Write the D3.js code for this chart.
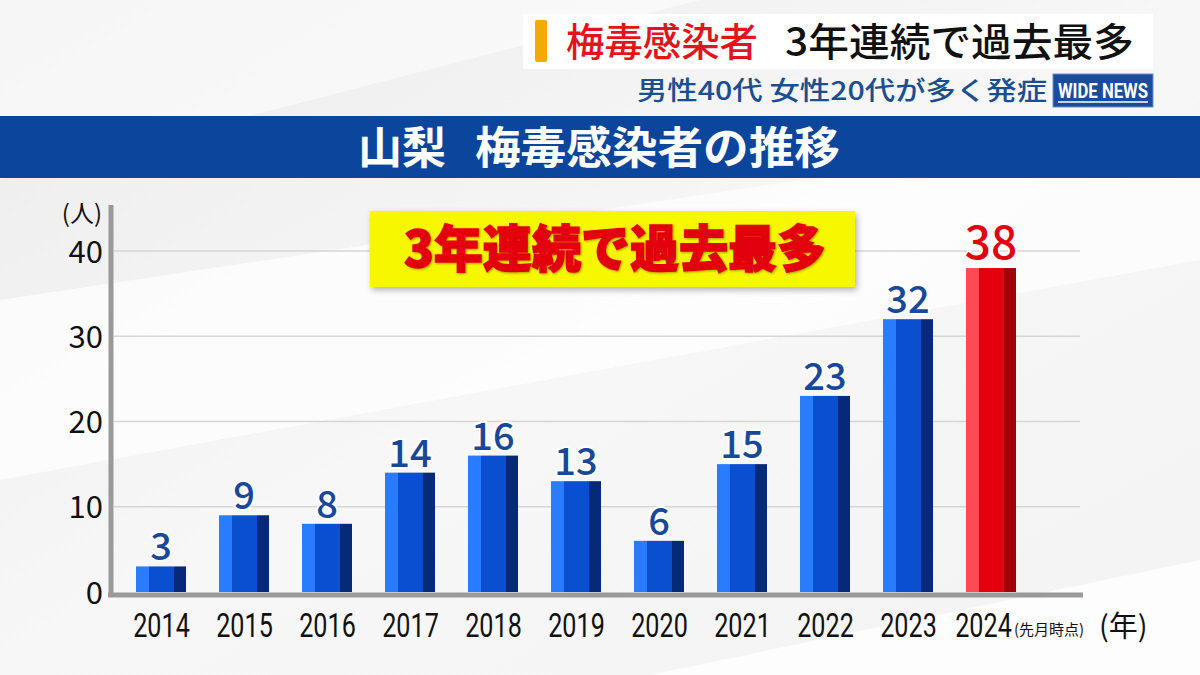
<!DOCTYPE html>
<html><head><meta charset="utf-8">
<script src="https://cdn.jsdelivr.net/npm/d3@7"></script>
<style>
html,body{margin:0;padding:0;background:#fff;}
svg{display:block;}
</style>
</head><body>
<svg id="chart" width="1200" height="675"></svg>
<script>
const years = ["2014","2015","2016","2017","2018","2019","2020","2021","2022","2023","2024"];
const values = [3,9,8,14,16,13,6,15,23,32,38];
const highlight = [false,false,false,false,false,false,false,false,false,false,true];
const yTicks = [0,10,20,30,40];
const headline = "梅毒感染者";
const headline2 = "3年連続で過去最多";
const subline = "男性40代 女性20代が多く発症";
const titleA = "山梨";
const titleB = "梅毒感染者の推移";
const callout = "3年連続で過去最多";
const lastNote = "(先月時点)";
const yUnit = "(人)";
const xUnit = "(年)";

const JP = "'Noto Sans CJK JP','Noto Sans',sans-serif";
const svg = d3.select("#chart");
const defs = svg.append("defs");

// background
const bg = defs.append("linearGradient").attr("id","bg").attr("x1","0").attr("y1","0").attr("x2","1").attr("y2","1");
bg.append("stop").attr("offset","0").attr("stop-color","#ececec");
bg.append("stop").attr("offset","0.5").attr("stop-color","#f7f7f7");
bg.append("stop").attr("offset","1").attr("stop-color","#f3f3f3");
svg.append("rect").attr("width",1200).attr("height",675).attr("fill","url(#bg)");
svg.append("path").attr("d","M0,300 L1200,120 L1200,260 L0,480 Z").attr("fill","#ffffff").attr("opacity",0.7);
svg.append("path").attr("d","M0,0 L700,0 L0,180 Z").attr("fill","#ffffff").attr("opacity",0.5);
svg.append("path").attr("d","M650,675 L1200,560 L1200,675 Z").attr("fill","#ffffff").attr("opacity",0.8);

const sh = defs.append("filter").attr("id","shadow").attr("x","-10%").attr("y","-20%").attr("width","130%").attr("height","160%");
sh.append("feDropShadow").attr("dx",2).attr("dy",3).attr("stdDeviation",3).attr("flood-color","#000").attr("flood-opacity",0.3);
const tsh = defs.append("filter").attr("id","tshadow").attr("x","-5%").attr("y","-20%").attr("width","110%").attr("height","150%");
tsh.append("feDropShadow").attr("dx",1).attr("dy",1).attr("stdDeviation",1).attr("flood-color","#000").attr("flood-opacity",0.35);

// header
svg.append("rect").attr("x",523).attr("y",14).attr("width",630).attr("height",55).attr("fill","#ffffff").attr("opacity",0.95);
svg.append("rect").attr("x",535).attr("y",20).attr("width",12).attr("height",42).attr("rx",2).attr("fill","#f2ab00");
svg.append("text").attr("x",566).attr("y",56).attr("font-family",JP).attr("font-size",39).attr("font-weight",500)
  .attr("fill","#e2141c").attr("textLength",192).attr("lengthAdjust","spacingAndGlyphs").text(headline);
svg.append("text").attr("x",785).attr("y",56).attr("font-family",JP).attr("font-size",39).attr("font-weight",500)
  .attr("fill","#111").attr("textLength",349).attr("lengthAdjust","spacingAndGlyphs").text(headline2);
svg.append("text").attr("x",637).attr("y",100).attr("font-family",JP).attr("font-size",26).attr("font-weight",500)
  .attr("fill","#1c4e92").attr("textLength",410).attr("lengthAdjust","spacingAndGlyphs").text(subline);
svg.append("rect").attr("x",1053).attr("y",74).attr("width",100).attr("height",33).attr("fill","#1a4c9c").attr("stroke","#6f8fc6").attr("stroke-width",1);
svg.append("text").attr("x",1058).attr("y",98).attr("font-family","'Roboto','Liberation Sans',sans-serif")
  .attr("font-size",21).attr("font-weight",700).attr("fill","#fff").attr("textLength",90).attr("lengthAdjust","spacingAndGlyphs").text("WIDE NEWS");
svg.append("line").attr("x1",1058).attr("x2",1148).attr("y1",102).attr("y2",102).attr("stroke","#fff").attr("stroke-width",1.5);

// title bar
svg.append("rect").attr("x",0).attr("y",116).attr("width",1200).attr("height",62).attr("fill","#0b469c");
svg.append("text").attr("x",358).attr("y",164).attr("font-family",JP).attr("font-size",44).attr("font-weight",700)
  .attr("fill","#fff").attr("textLength",88).attr("lengthAdjust","spacingAndGlyphs").text(titleA);
svg.append("text").attr("x",475).attr("y",164).attr("font-family",JP).attr("font-size",44).attr("font-weight",700)
  .attr("fill","#fff").attr("textLength",365).attr("lengthAdjust","spacingAndGlyphs").text(titleB);

// scales
const x = d3.scalePoint().domain(years).range([161, 991]);
const y = d3.scaleLinear().domain([0,40]).range([592, 251]);
const barW = 50;

// grid
svg.append("g").selectAll("line").data(yTicks.filter(d=>d>0)).join("line")
  .attr("x1",114).attr("x2",1080).attr("y1",d=>y(d)).attr("y2",d=>y(d))
  .attr("stroke","#d6d6d6").attr("stroke-width",1.5);

// y axis labels
const yAxis = d3.axisLeft(y).tickValues(yTicks).tickSize(0).tickPadding(0);
const gy = svg.append("g").attr("transform","translate(103,0)").call(yAxis);
gy.select(".domain").remove();
gy.selectAll("text").attr("font-family",JP).attr("font-size",31).attr("font-weight",400).attr("fill","#111").attr("dy","0.36em");
svg.append("text").attr("x",102).attr("y",222).attr("text-anchor","end").attr("font-family",JP).attr("font-size",24).attr("fill","#111").text(yUnit);

// bars
const blueCols = ["#2a7cff","#0a4fd0","#062a78"];
const redCols = ["#ff4a56","#e3000f","#a3000b"];
const bars = svg.append("g").selectAll("g").data(years).join("g")
  .attr("transform",d=>`translate(${x(d)-barW/2},0)`);
const stripes = [[0,13],[13,38],[38,50]];
stripes.forEach((s,k)=>{
  bars.append("rect").attr("x",s[0]).attr("width",s[1]-s[0])
    .attr("y",(d,i)=>y(values[i])).attr("height",(d,i)=>y(0)-y(values[i]))
    .attr("fill",(d,i)=>(highlight[i]?redCols:blueCols)[k]);
});
bars.append("text").attr("x",barW/2).attr("y",(d,i)=>y(values[i])-(highlight[i]?9:6))
  .attr("text-anchor","middle").attr("font-family","'Noto Sans CJK JP',sans-serif")
  .attr("font-size",(d,i)=>highlight[i]?46:38).attr("font-weight",500)
  .attr("fill",(d,i)=>highlight[i]?"#e3000f":"#17489a")
  .attr("stroke","#fff").attr("stroke-width",4).attr("paint-order","stroke")
  .text((d,i)=>values[i]);

// axes lines
svg.append("line").attr("x1",111).attr("x2",111).attr("y1",205).attr("y2",597).attr("stroke","#9a9a9a").attr("stroke-width",5);
svg.append("line").attr("x1",108).attr("x2",1083).attr("y1",595).attr("y2",595).attr("stroke","#9a9a9a").attr("stroke-width",5);

// x labels (condensed via horizontal scale)
const sx = 0.74;
const xAxis = d3.axisBottom(x).tickSize(0).tickPadding(0);
const gx = svg.append("g").attr("transform","translate(0,637)").call(xAxis);
gx.select(".domain").remove();
gx.selectAll("text").attr("dy",0).attr("y",0).attr("font-family","'Roboto','Liberation Sans',sans-serif")
  .attr("font-size",34).attr("fill","#111").attr("transform",`scale(${sx},1)`);
gx.selectAll(".tick").filter(d=>d==="2024").select("text").attr("x",-8/sx);
svg.append("text").attr("x",1014).attr("y",635).attr("font-family",JP).attr("font-size",15).attr("fill","#111").text(lastNote);
svg.append("text").attr("x",1099).attr("y",637).attr("font-family",JP).attr("font-size",29).attr("fill","#111").text(xUnit);

// callout
svg.append("rect").attr("x",370).attr("y",211).attr("width",485).attr("height",76).attr("fill","#f7f700").attr("filter","url(#shadow)");
svg.append("text").attr("x",404).attr("y",267).attr("font-family",JP).attr("font-size",50).attr("font-weight",900)
  .attr("fill","#e3000f").attr("stroke","#e3000f").attr("stroke-width",1.5).attr("filter","url(#tshadow)")
  .attr("textLength",422).attr("lengthAdjust","spacingAndGlyphs").text(callout);
</script>
</body></html>
